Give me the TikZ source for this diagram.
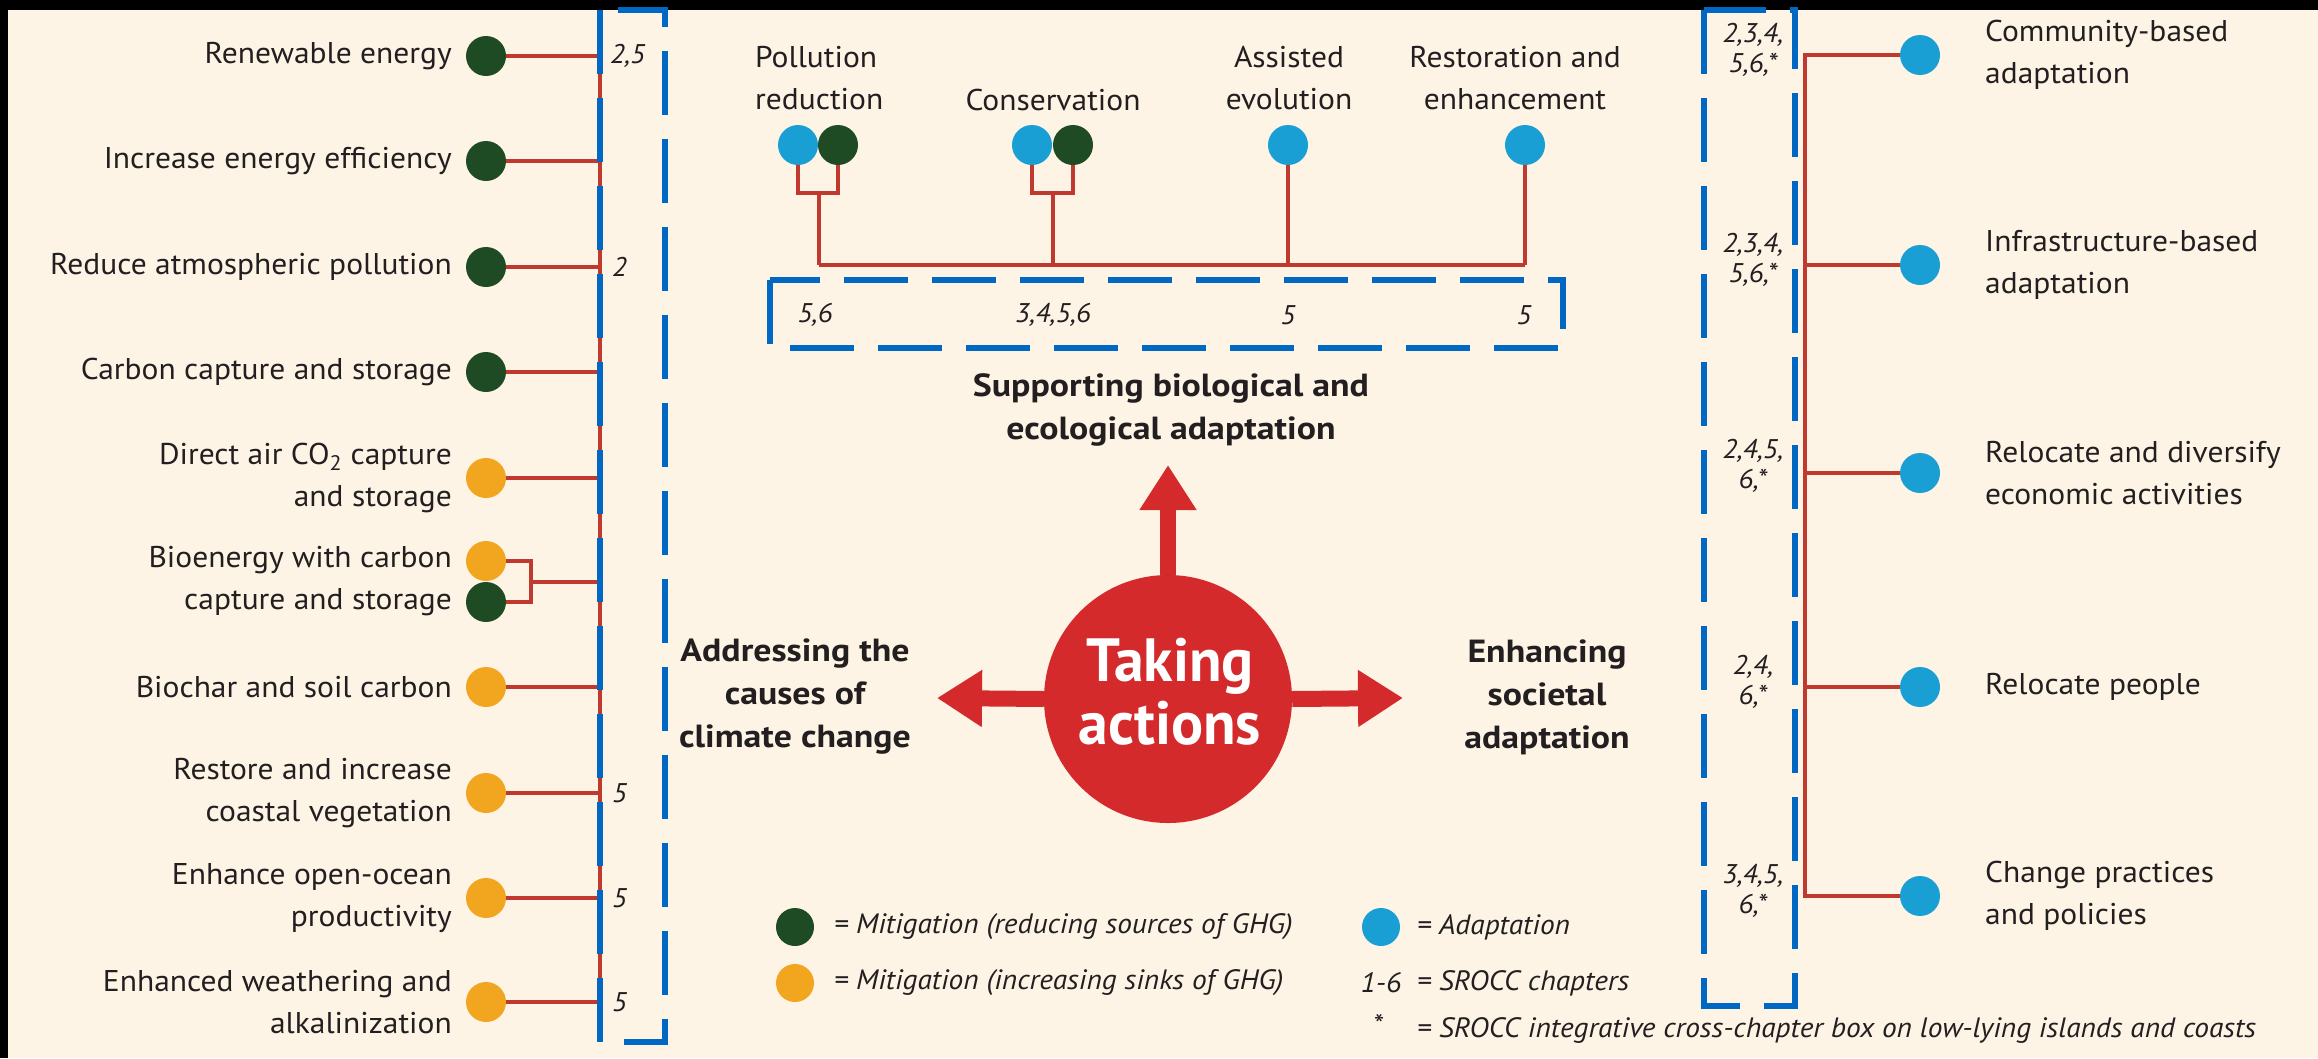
\documentclass[tikz,border=0pt]{standalone}
\usepackage{fontspec}
\setmainfont{PT Sans}[FakeStretch=1.05, BoldFeatures={FakeStretch=1.12}]
\newfontfamily\takefont{PT Sans}[FakeStretch=0.98]
\usetikzlibrary{arrows.meta}
\definecolor{bg}{HTML}{FDF4E6}
\definecolor{dgreen}{HTML}{1F4B24}
\definecolor{orng}{HTML}{F2A51E}
\definecolor{cyanb}{HTML}{1A9FD5}
\definecolor{lred}{HTML}{C0392F}
\definecolor{bred}{HTML}{D42A2C}
\definecolor{dblue}{HTML}{0068C2}
\definecolor{txt}{HTML}{231F20}
\tikzset{
 lbl/.style={font=\fontsize{30}{42}\selectfont, text=txt, inner sep=0pt},
 lblR/.style={lbl, align=right, anchor=east},
 lblL/.style={lbl, align=left, anchor=west},
 lblC/.style={lbl, align=center},
 hd/.style={font=\fontsize{32}{43}\selectfont\bfseries, text=txt, inner sep=0pt, align=center},
 num/.style={font=\fontsize{27}{30}\selectfont\itshape, text=txt, inner sep=0pt, align=center},
 dotbase/.style={circle, minimum size=40pt, inner sep=0pt},
 gdot/.style={dotbase, fill=dgreen},
 odot/.style={dotbase, fill=orng},
 bdot/.style={dotbase, fill=cyanb},
 link/.style={draw=lred, line width=3.8pt},
 hilite/.style={draw=dblue, line width=6pt, dash pattern=on 64pt off 24pt},
 bigarrow/.style={draw=bred, line width=16pt, -{Triangle[length=45pt,width=54pt]}},
 leg/.style={font=\fontsize{28}{30}\selectfont\itshape, text=txt, inner sep=0pt, anchor=west},
}
\begin{document}
\begin{tikzpicture}[x=1pt,y=-1pt]
\useasboundingbox (0,0) rectangle (2318,1058);
\fill[black] (0,0) rectangle (2318,1058);
\fill[bg] (8,10) rectangle (2318,1058);

% ---------- left column ----------
\node[gdot] (d1) at (486,56) {};
\node[lblR] (t1) at (452,56) {Renewable energy};
\node[gdot] (d2) at (486,161) {};
\node[lblR] (t2) at (452,161) {Increase energy efficiency};
\node[gdot] (d3) at (486,267) {};
\node[lblR] (t3) at (452,267) {Reduce atmospheric pollution};
\node[gdot] (d4) at (486,372) {};
\node[lblR] (t4) at (452,372) {Carbon capture and storage};
\node[odot] (d5) at (486,478) {};
\node[lblR] (t5) at (452,478) {Direct air CO\textsubscript{2} capture\hspace{10pt}\\and storage};
\node[odot] (d6a) at (486,561) {};
\node[gdot] (d6b) at (486,602) {};
\node[lblR] (t6) at (452,581) {Bioenergy with carbon\\capture and storage};
\node[odot] (d7) at (486,687) {};
\node[lblR] (t7) at (452,687) {Biochar and soil carbon};
\node[odot] (d8) at (486,793) {};
\node[lblR] (t8) at (452,793) {Restore and increase\\coastal vegetation};
\node[odot] (d9) at (486,898) {};
\node[lblR] (t9) at (452,898) {Enhance open-ocean\hspace{10pt}\\productivity};
\node[odot] (d10) at (486,1002) {};
\node[lblR] (t10) at (452,1002) {Enhanced weathering and\\alkalinization};

\coordinate (b1) at (600,56);
\coordinate (b2) at (600,161);
\coordinate (b3) at (600,267);
\coordinate (b4) at (600,372);
\coordinate (b5) at (600,478);
\coordinate (b6) at (600,582);
\coordinate (k6) at (531,582);
\coordinate (b7) at (600,687);
\coordinate (b8) at (600,793);
\coordinate (b9) at (600,898);
\coordinate (b10) at (600,1002);
\draw[link] (b1) -- (b10);
\draw[link] (d1) -- (b1);
\draw[link] (d2) -- (b2);
\draw[link] (d3) -- (b3);
\draw[link] (d4) -- (b4);
\draw[link] (d5) -- (b5);
\draw[link] (d6a.east) -| (k6) |- (d6b.east);
\draw[link] (k6) -- (b6);
\draw[link] (d7) -- (b7);
\draw[link] (d8) -- (b8);
\draw[link] (d9) -- (b9);
\draw[link] (d10) -- (b10);

\node[num, anchor=west] (n1) at (610,56) {2,5};
\node[num, anchor=west] (n3) at (612,267) {2};
\node[num, anchor=west] (n8) at (612,793) {5};
\node[num, anchor=west] (n9) at (612,898) {5};
\node[num, anchor=west] (n10) at (612,1002) {5};

\draw[hilite] (600,10) rectangle (665,1042);

% ---------- top section ----------
\node[lblL] (tp1) at (755,78) {Pollution\\reduction};
\node[lblC] (tp2) at (1053,100) {Conservation};
\node[lblC] (tp3) at (1289,78) {Assisted\\evolution};
\node[lblC] (tp4) at (1515,78) {Restoration and\\enhancement};

\node[bdot] (p1) at (798,145) {};
\node[gdot] (p2) at (838,145) {};
\node[bdot] (c1) at (1032,145) {};
\node[gdot] (c2) at (1073,145) {};
\node[bdot] (a1) at (1288,145) {};
\node[bdot] (r1) at (1525,145) {};

\coordinate (pm) at (819,193);
\coordinate (pb) at (819,265);
\coordinate (cm) at (1053,193);
\coordinate (cb) at (1053,265);
\coordinate (ab) at (1288,265);
\coordinate (rb) at (1525,265);
\draw[link] (p1.south) |- (pm) -| (p2.south);
\draw[link] (c1.south) |- (cm) -| (c2.south);
\draw[link] (pm) -- (pb);
\draw[link] (cm) -- (cb);
\draw[link] (a1) -- (ab);
\draw[link] (r1) -- (rb);
\draw[link] (pb) -- (rb);

\node[num] (m1) at (815,315) {5,6};
\node[num] (m2) at (1053,315) {3,4,5,6};
\node[num] (m3) at (1288,315) {5};
\node[num] (m4) at (1524,315) {5};
\draw[hilite] (770,280) rectangle (1563,348);

\node[hd] (hbio) at (1171,410) {Supporting biological and\\ecological adaptation};

% ---------- centre ----------
\node[circle, fill=bred, minimum size=248pt, inner sep=0pt] (act) at (1168,699) {};
\node[text=white, font=\fontsize{61}{63}\takefont\bfseries, align=center, inner sep=0pt] (acttxt) at (1170,692) {Taking\\actions};
\coordinate (upTip) at (1168,465);
\coordinate (lTip) at (937,698);
\coordinate (rTip) at (1403,698);
\draw[bigarrow] (act.north) -- (upTip);
\draw[bigarrow] (act.west) -- (lTip);
\draw[bigarrow] (act.east) -- (rTip);

\node[hd] (hcause) at (795,697) {Addressing the\\causes of\\climate change};
\node[hd] (hsoc) at (1547,697) {Enhancing\\societal\\adaptation};

% ---------- right column ----------
\node[bdot] (q1) at (1920,55) {};
\node[bdot] (q2) at (1920,265) {};
\node[bdot] (q3) at (1920,473) {};
\node[bdot] (q4) at (1920,687) {};
\node[bdot] (q5) at (1920,896) {};
\node[lblL] (s1) at (1985,55) {Community-based\\adaptation};
\node[lblL] (s2) at (1985,265) {Infrastructure-based\\adaptation};
\node[lblL] (s3) at (1985,473) {Relocate and diversify\\economic activities};
\node[lblL] (s4) at (1985,687) {Relocate people};
\node[lblL] (s5) at (1985,896) {Change practices\\and policies};
\coordinate (e1) at (1805,55);
\coordinate (e2) at (1805,265);
\coordinate (e3) at (1805,473);
\coordinate (e4) at (1805,687);
\coordinate (e5) at (1805,896);
\draw[link] (q1) -- (e1) -- (e5) -- (q5);
\draw[link] (q2) -- (e2);
\draw[link] (q3) -- (e3);
\draw[link] (q4) -- (e4);

\node[num] (u1) at (1753,50) {2,3,4,\\5,6,*};
\node[num] (u2) at (1753,260) {2,3,4,\\5,6,*};
\node[num] (u3) at (1753,466) {2,4,5,\\6,*};
\node[num] (u4) at (1753,682) {2,4,\\6,*};
\node[num] (u5) at (1753,891) {3,4,5,\\6,*};
\draw[hilite] (1704,10) rectangle (1795,1006);

% ---------- legend ----------
\node[gdot, minimum size=38pt] (lg1) at (795,927) {};
\node[leg] (lt1) at (834,927) {= Mitigation (reducing sources of GHG)};
\node[odot, minimum size=38pt] (lg2) at (795,983) {};
\node[leg] (lt2) at (834,983) {= Mitigation (increasing sinks of GHG)};
\node[bdot, minimum size=38pt] (lg3) at (1381,927) {};
\node[leg] (lt3) at (1417,927) {= Adaptation};
\node[leg, anchor=center] (lk4) at (1381,983) {1-6};
\node[leg] (lt4) at (1417,983) {= SROCC chapters};
\node[leg, anchor=center] (lk5) at (1378,1024) {*};
\node[leg] (lt5) at (1417,1030) {= SROCC integrative cross-chapter box on low-lying islands and coasts};
\end{tikzpicture}
\end{document}
